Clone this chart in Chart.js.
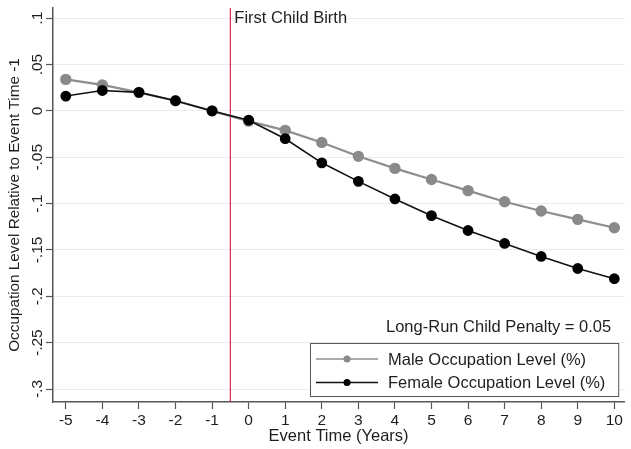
<!DOCTYPE html>
<html>
<head>
<meta charset="utf-8">
<script src="https://cdn.jsdelivr.net/npm/chart.js@4"></script>
<style>
  body { margin: 0; background: #fff; }
  #wrap { width: 631px; height: 449px; }
</style>
</head>
<body>
<div id="wrap"><canvas id="chart"></canvas></div>
<script>
// event time (years relative to first child birth)
const eventTime = [-5, -4, -3, -2, -1, 0, 1, 2, 3, 4, 5, 6, 7, 8, 9, 10];
const maleLevel = [0.034, 0.028, 0.020, 0.011, 0, -0.011, -0.021, -0.034, -0.049, -0.062, -0.074, -0.086, -0.098, -0.108, -0.117, -0.126];
const femaleLevel = [0.016, 0.022, 0.020, 0.011, 0, -0.010, -0.030, -0.056, -0.076, -0.095, -0.113, -0.129, -0.143, -0.157, -0.170, -0.181];
const yTicks = [0.1, 0.05, 0, -0.05, -0.1, -0.15, -0.2, -0.25, -0.3];
const yTickLabels = ['.1', '.05', '0', '-.05', '-.1', '-.15', '-.2', '-.25', '-.3'];
const birthTime = -0.5;
const birthLabel = 'First Child Birth';
const penaltyText = 'Long-Run Child Penalty = 0.05';

const FONT = '"Liberation Sans", Arial, sans-serif';
const TXT = '#1e1e1e';

// y tick labels are rotated like in the stata output
const yLabelsPlugin = {
  id: 'yLabels',
  afterDraw(chart) {
    const { ctx, chartArea, scales } = chart;
    ctx.save();
    ctx.fillStyle = TXT;
    ctx.font = '15.5px ' + FONT;
    ctx.textAlign = 'center';
    ctx.textBaseline = 'bottom';
    yTicks.forEach((v, i) => {
      const py = scales.y.getPixelForValue(v);
      ctx.save();
      ctx.translate(chartArea.left - 10, py);
      ctx.rotate(-Math.PI / 2);
      ctx.fillText(yTickLabels[i], 0, 2);
      ctx.restore();
    });
    ctx.restore();
  }
};

// vertical line at birth + notes + legend box
const annotPlugin = {
  id: 'annot',
  beforeDatasetsDraw(chart) {
    const { ctx, chartArea, scales } = chart;
    const x = scales.x.getPixelForValue(birthTime);
    ctx.save();
    ctx.strokeStyle = '#d42a52';
    ctx.lineWidth = 1.2;
    ctx.beginPath();
    ctx.moveTo(x, chartArea.top);
    ctx.lineTo(x, chartArea.bottom);
    ctx.stroke();
    ctx.fillStyle = TXT;
    ctx.font = '16.5px ' + FONT;
    ctx.textAlign = 'left';
    ctx.textBaseline = 'middle';
    ctx.fillText(birthLabel, x + 4, chartArea.top + 10);
    ctx.restore();
  },
  afterDraw(chart) {
    const { ctx, chartArea } = chart;
    ctx.save();
    ctx.fillStyle = TXT;
    ctx.font = '16.5px ' + FONT;
    ctx.textAlign = 'right';
    ctx.textBaseline = 'middle';
    ctx.fillText(penaltyText, chartArea.right - 13, chartArea.bottom - 75);

    // legend box
    const bx = 310, by = chartArea.bottom - 59, bw = chartArea.right - 6 - bx, bh = 53;
    ctx.fillStyle = '#fff';
    ctx.fillRect(bx, by, bw, bh);
    ctx.strokeStyle = '#555';
    ctx.lineWidth = 1;
    ctx.strokeRect(bx + 0.5, by + 0.5, bw, bh);
    const items = [chart.data.datasets[1], chart.data.datasets[0]];
    items.forEach((ds, i) => {
      const ry = by + 16 + i * 23.5;
      ctx.strokeStyle = ds.borderColor;
      ctx.lineWidth = i === 0 ? 1.5 : 1.6;
      ctx.beginPath();
      ctx.moveTo(bx + 6, ry);
      ctx.lineTo(bx + 68, ry);
      ctx.stroke();
      ctx.fillStyle = ds.pointBackgroundColor;
      ctx.beginPath();
      ctx.arc(bx + 37, ry, 3.5, 0, Math.PI * 2);
      ctx.fill();
      ctx.fillStyle = TXT;
      ctx.font = '16.5px ' + FONT;
      ctx.textAlign = 'left';
      ctx.fillText(ds.label, bx + 78, ry + 1);
    });
    ctx.restore();
  }
};

new Chart(document.getElementById('chart'), {
  type: 'line',
  data: {
    datasets: [
      {
        label: 'Female Occupation Level (%)',
        data: eventTime.map((t, i) => ({ x: t, y: femaleLevel[i] })),
        borderColor: '#111',
        backgroundColor: '#111',
        pointBackgroundColor: '#000',
        pointBorderColor: '#000',
        borderWidth: 1.6,
        pointRadius: 4.6,
        order: 1
      },
      {
        label: 'Male Occupation Level (%)',
        data: eventTime.map((t, i) => ({ x: t, y: maleLevel[i] })),
        borderColor: '#8e8e8e',
        backgroundColor: '#8e8e8e',
        pointBackgroundColor: '#8a8a8a',
        pointBorderColor: '#8a8a8a',
        borderWidth: 2.2,
        pointRadius: 4.6,
        order: 2
      }
    ]
  },
  options: {
    responsive: true,
    maintainAspectRatio: false,
    animation: false,
    layout: { padding: { left: 0, top: 8, right: 3, bottom: 0 } },
    plugins: { legend: { display: false }, tooltip: { enabled: false } },
    elements: { line: { tension: 0 } },
    scales: {
      x: {
        type: 'linear',
        min: -5.35,
        max: 10.27,
        afterBuildTicks: (s) => { s.ticks = eventTime.map(v => ({ value: v })); },
        afterFit: (s) => { s.height = 47; },
        ticks: { color: TXT, font: { family: FONT, size: 15.5 }, padding: 2, maxRotation: 0, autoSkip: false },
        grid: { drawOnChartArea: false, tickLength: 7, tickColor: '#555', tickWidth: 1.2 },
        border: { color: '#555', width: 1.5 },
        title: { display: true, text: 'Event Time (Years)', color: TXT, font: { family: FONT, size: 16.5 }, padding: { top: 0, bottom: 3 } }
      },
      y: {
        min: -0.314,
        max: 0.111,
        afterBuildTicks: (s) => { s.ticks = yTicks.map(v => ({ value: v })); },
        afterFit: (s) => { s.width = 53; },
        ticks: { display: false },
        grid: { color: '#e4eef3', lineWidth: 1, tickLength: 7, tickColor: '#555', tickWidth: 1.2 },
        border: { color: '#555', width: 1.5 },
        title: { display: true, text: 'Occupation Level Relative to Event Time -1', color: TXT, font: { family: FONT, size: 15.3 }, padding: { top: 6, bottom: 0 } }
      }
    }
  },
  plugins: [yLabelsPlugin, annotPlugin]
});
</script>
</body>
</html>
